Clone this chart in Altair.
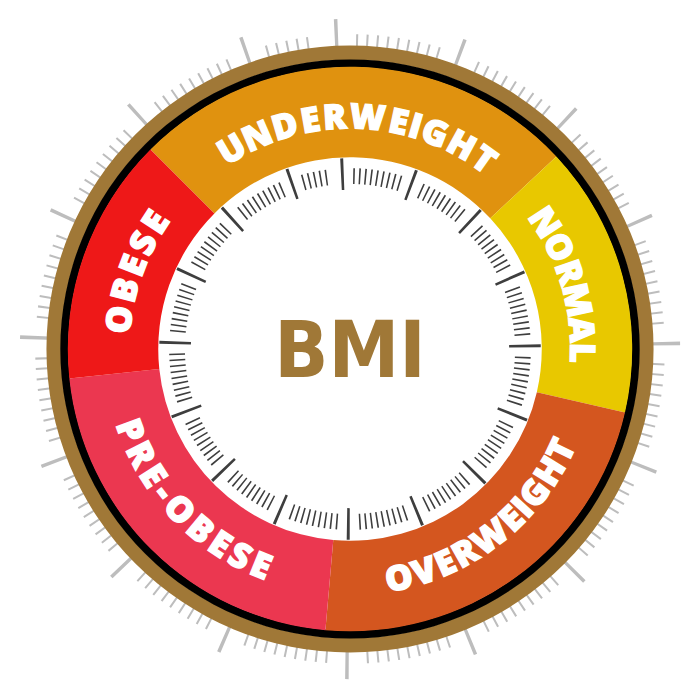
import math
import altair as alt
import pandas as pd

# ---------------- data ----------------
# angles in degrees, clockwise from 12 o'clock
categories = ["UNDERWEIGHT", "NORMAL", "OVERWEIGHT", "PRE-OBESE", "OBESE"]
seg_start = [-45.0, 47.0, 103.0, 185.0, 264.0]
seg_end = [47.0, 103.0, 185.0, 264.0, 315.0]
seg_colors = ["#E0920F", "#E8C800", "#D4561F", "#EB3750", "#EE1818"]

# angle of the first and last letter of each curved label
label_first = [-30.6, 57.0, 167.9, 249.6, 277.3]
label_last = [35.3, 90.9, 115.6, 202.3, 303.1]
label_facing = ["out", "out", "in", "in", "out"]

center_title = ["BMI"]

# dial graduation: 16 major ticks, 12 subdivisions between them
major_start = -2.5
major_step = 22.88
major_count = 16
sub_steps = 12

# ---------------- styles ----------------
BROWN = "#A07837"
TICK_OUT = "#BDBDBD"
TICK_IN = "#3E3E3E"
LABEL_FONT = "Open Sans"
TITLE_FONT = "Liberation Sans Narrow, DejaVu Sans Condensed, Roboto Condensed, Roboto, sans-serif"

THETA = alt.Scale(domain=[0, 360], range=[0, 2 * math.pi])
RADIUS = alt.Scale(type="linear", domain=[0, 350], range=[0, 350])

# approximate relative glyph widths for spreading letters along the arc
glyph_w = {"U": .70, "N": .74, "D": .74, "E": .58, "R": .66, "W": 1.0, "I": .30,
           "G": .74, "H": .74, "T": .60, "O": .78, "M": .88, "A": .70, "L": .54,
           "V": .68, "P": .64, "B": .66, "S": .58, "-": .40}


def arcs(df, **mark):
    return alt.Chart(df).mark_arc(**mark).encode(
        theta=alt.Theta("t0:Q", scale=THETA, stack=None),
        theta2="t1:Q",
        radius=alt.Radius("r0:Q", scale=RADIUS),
        radius2="r1:Q",
    )


# ---------------- segments ----------------
seg_df = pd.DataFrame({"category": categories, "t0": seg_start, "t1": seg_end,
                       "r0": 194.0, "r1": 285.5})
segments = alt.Chart(seg_df).mark_arc(stroke=None).encode(
    theta=alt.Theta("t0:Q", scale=THETA, stack=None),
    theta2="t1:Q",
    radius=alt.Radius("r0:Q", scale=RADIUS),
    radius2="r1:Q",
    color=alt.Color("category:N", scale=alt.Scale(domain=categories, range=seg_colors),
                    legend=None),
)

brown_ring = arcs(pd.DataFrame({"t0": [0.0], "t1": [360.0], "r0": [292.5], "r1": [307.0]}),
                  color=BROWN)
black_ring = arcs(pd.DataFrame({"t0": [0.0], "t1": [360.0], "r0": [285.0], "r1": [293.0]}),
                  color="#000000")


# ---------------- ticks ----------------
def tick_rows(r0, r1, width_major, width_minor, r0_minor, r1_minor):
    rows = []
    for k in range(major_count):
        base = major_start + k * major_step
        rm = (r0 + r1) / 2
        h = (width_major / 2) / rm * 180 / math.pi
        rows.append({"t0": base - h, "t1": base + h, "r0": r0, "r1": r1})
        last_j = 6 if k == major_count - 1 else 10
        for j in range(2, last_j + 1):
            a = base + j * major_step / sub_steps
            rm2 = (r0_minor + r1_minor) / 2
            h2 = (width_minor / 2) / rm2 * 180 / math.pi
            rows.append({"t0": a - h2, "t1": a + h2, "r0": r0_minor, "r1": r1_minor})
    return pd.DataFrame(rows)


outer_ticks = arcs(tick_rows(298, 334, 3.4, 2.0, 298, 318.5), color=TICK_OUT)
inner_ticks = arcs(tick_rows(161, 193, 2.8, 1.6, 167, 183), color=TICK_IN)


# ---------------- curved labels ----------------
letter_rows = []
for name, a0, a1, facing in zip(categories, label_first, label_last, label_facing):
    widths = [glyph_w.get(c, .6) for c in name]
    centers = []
    acc = 0.0
    for w in widths:
        centers.append(acc + w / 2)
        acc += w
    c0, c1 = centers[0], centers[-1]
    r = 234.0 if facing == "out" else 238.0
    for ch, c in zip(name, centers):
        th = a0 + (a1 - a0) * (c - c0) / (c1 - c0)
        rot = th if facing == "out" else th - 180.0
        letter_rows.append({"letter": ch, "theta": th, "r": r, "rot": rot % 360})
letters_df = pd.DataFrame(letter_rows)

labels = alt.Chart(letters_df).mark_text(
    font=LABEL_FONT, fontSize=35, fontWeight=800, color="white",
    stroke="white", strokeWidth=1.4,
    align="center", baseline="middle",
).encode(
    theta=alt.Theta("theta:Q", scale=THETA, stack=None),
    radius=alt.Radius("r:Q", scale=RADIUS),
    text="letter:N",
    angle=alt.Angle("rot:Q", scale=None),
)

title = alt.Chart(pd.DataFrame({"title": center_title, "theta": [0.0], "r": [0.0]})).mark_text(
    font=TITLE_FONT, fontSize=80, fontWeight="bold", color=BROWN,
    align="center", baseline="middle", dy=4,
).encode(
    theta=alt.Theta("theta:Q", scale=THETA, stack=None),
    radius=alt.Radius("r:Q", scale=RADIUS),
    text="title:N",
)

chart = alt.layer(
    outer_ticks, brown_ring, black_ring, segments, inner_ticks, labels, title
).properties(
    width=692, height=682, padding=0,
    autosize=alt.AutoSizeParams(type="none"),
    background="white",
).configure_view(stroke=None)

chart.save("out.html", embed_options={"renderer": "svg", "actions": False})
